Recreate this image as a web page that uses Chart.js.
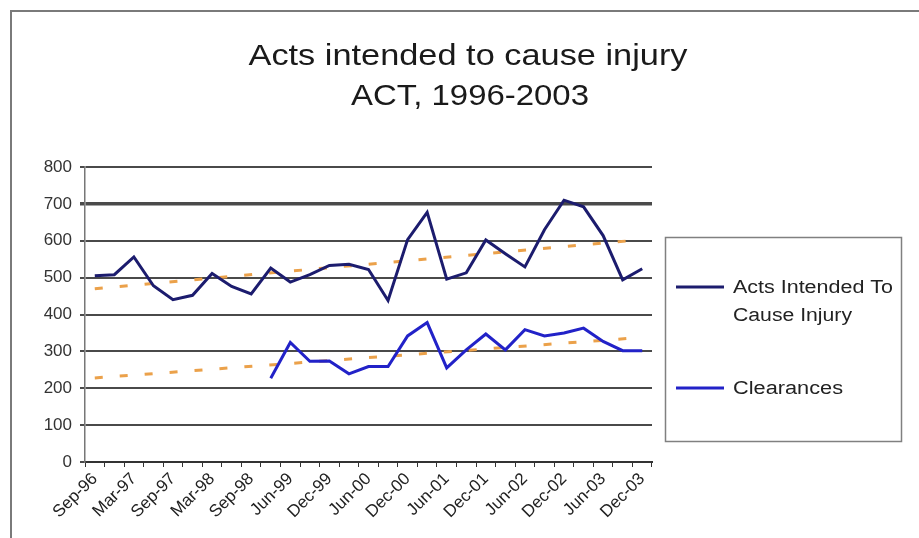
<!DOCTYPE html>
<html>
<head>
<meta charset="utf-8">
<script src="https://cdn.jsdelivr.net/npm/chart.js@4.4.1/dist/chart.umd.min.js"></script>
<style>
    html, body { margin: 0; padding: 0; background: #fff; }
    #wrap { width: 919px; height: 538px; position: relative; }
</style>
</head>
<body>
<div id="wrap"><canvas id="acts-chart" width="919" height="538"></canvas></div>
<script>
    // Quarters (one quarter absent in the source between Sep-98 and Jun-99)
    const quarters = ["Sep-96", "Dec-96", "Mar-97", "Jun-97", "Sep-97", "Dec-97", "Mar-98", "Jun-98",
        "Sep-98", "Dec-98", "Jun-99", "Sep-99", "Dec-99", "Mar-00", "Jun-00", "Sep-00", "Dec-00",
        "Mar-01", "Jun-01", "Sep-01", "Dec-01", "Mar-02", "Jun-02", "Sep-02", "Dec-02", "Mar-03",
        "Jun-03", "Sep-03", "Dec-03"];

    const actsInjury = [505, 508, 556, 478, 440, 452, 511, 476, 456, 526, 488, 508, 533, 536, 522,
        438, 603, 677, 496, 513, 602, 565, 529, 630, 710, 692, 614, 494, 524];

    const clearances = [null, null, null, null, null, null, null, null, null, 227, 324, 273, 274,
        239, 259, 259, 342, 378, 255, 304, 347, 304, 359, 342, 350, 363, 327, 302, 302];

    // trend line end values (start, end)
    const actsTrend = [470, 603];
    const clearTrend = [228, 338];

    const yTicks = [0, 100, 200, 300, 400, 500, 600, 700, 800];

    function endsOnly(ends) {
        var arr = quarters.map(function () { return null; });
        arr[0] = ends[0];
        arr[arr.length - 1] = ends[1];
        return arr;
    }

    // text squeezed/stretched to a given width (the source image is a bit wide)
    function drawStretched(c, text, x, y, width) {
        var w = c.measureText(text).width;
        c.save();
        c.translate(x, y);
        c.scale(width / w, 1);
        c.fillText(text, 0, 0);
        c.restore();
    }

    // Title, frame and legend drawn by hand
    var decorPlugin = {
        id: "decor",
        afterDraw: function (chart) {
            var c = chart.ctx;
            c.save();

            // outer frame (top and left only visible)
            c.strokeStyle = "#7a7a7a";
            c.lineWidth = 2;
            c.beginPath();
            c.moveTo(11, 538);
            c.lineTo(11, 11);
            c.lineTo(919, 11);
            c.stroke();

            // title
            c.fillStyle = "#1a1a1a";
            c.textAlign = "center";
            c.textBaseline = "middle";
            c.font = "29px 'Liberation Sans', Arial, sans-serif";
            drawStretched(c, "Acts intended to cause injury", 468, 57, 439);
            drawStretched(c, "ACT, 1996-2003", 470, 97, 238);

            // legend box
            c.strokeStyle = "#808080";
            c.lineWidth = 1.5;
            c.strokeRect(665.5, 237.5, 236, 204);

            var ds = chart.data.datasets;
            c.lineWidth = 3;
            c.strokeStyle = ds[0].borderColor;
            c.beginPath(); c.moveTo(676, 287); c.lineTo(724, 287); c.stroke();
            c.strokeStyle = ds[1].borderColor;
            c.beginPath(); c.moveTo(676, 388); c.lineTo(724, 388); c.stroke();

            c.fillStyle = "#222";
            c.textAlign = "left";
            c.font = "18px 'Liberation Sans', Arial, sans-serif";
            drawStretched(c, "Acts Intended To", 733, 288, 160);
            drawStretched(c, "Cause Injury", 733, 316, 119);
            drawStretched(c, ds[1].label, 733, 389, 110);
            c.restore();
        }
    };

    var ctx = document.getElementById("acts-chart").getContext("2d");
    var myChart = new Chart(ctx, {
        type: "line",
        data: {
            labels: quarters,
            datasets: [{
                    label: "Acts Intended To Cause Injury",
                    data: actsInjury,
                    borderColor: "#1c1c6e",
                    borderWidth: 3,
                    pointRadius: 0,
                    tension: 0,
                    order: 1
                },
                {
                    label: "Clearances",
                    data: clearances,
                    borderColor: "#2222c8",
                    borderWidth: 3,
                    pointRadius: 0,
                    tension: 0,
                    order: 2
                },
                {
                    label: "trend acts",
                    data: endsOnly(actsTrend),
                    borderColor: "#eba14a",
                    borderWidth: 3,
                    borderDash: [8, 17],
                    pointRadius: 0,
                    spanGaps: true,
                    order: 3
                },
                {
                    label: "trend clearances",
                    data: endsOnly(clearTrend),
                    borderColor: "#eba14a",
                    borderWidth: 3,
                    borderDash: [8, 17],
                    pointRadius: 0,
                    spanGaps: true,
                    order: 4
                }
            ]
        },
        options: {
            responsive: false,
            animation: false,
            layout: { padding: { top: 167, right: 267, left: 0, bottom: 0 } },
            plugins: {
                legend: { display: false },
                title: { display: false },
                tooltip: { enabled: false }
            },
            scales: {
                x: {
                    offset: true,
                    afterFit: function (s) { s.height = 76; },
                    grid: {
                        offset: true,
                        drawOnChartArea: false,
                        drawTicks: true,
                        tickLength: 5,
                        color: "#333"
                    },
                    border: { color: "#333", width: 2 },
                    ticks: {
                        autoSkip: false,
                        maxRotation: 45,
                        minRotation: 45,
                        padding: 2,
                        color: "#222",
                        font: { family: "'Liberation Sans', Arial, sans-serif", size: 17 },
                        callback: function (v, i) { return i % 2 === 0 ? quarters[i] : ""; }
                    }
                },
                y: {
                    min: 0,
                    max: 800,
                    afterFit: function (s) { s.width = 85; },
                    afterBuildTicks: function (s) { s.ticks = yTicks.map(function (v) { return { value: v }; }); },
                    grid: {
                        color: "#4a4a4a",
                        lineWidth: function (ctx) { return ctx.tick && ctx.tick.value === 700 ? 3.5 : 2; },
                        drawTicks: true,
                        tickLength: 5
                    },
                    border: { color: "#777", width: 1.5 },
                    ticks: {
                        padding: 8,
                        color: "#333",
                        font: { family: "'Liberation Sans', Arial, sans-serif", size: 17 }
                    }
                }
            }
        },
        plugins: [decorPlugin]
    });
</script>
</body>
</html>
